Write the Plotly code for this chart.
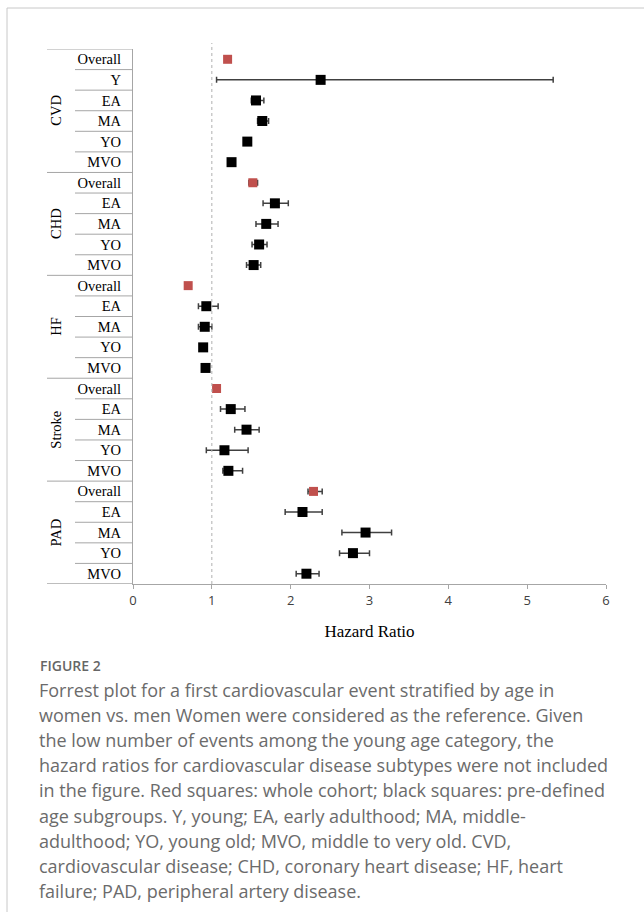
import plotly.graph_objects as go

# Hazard ratios (men vs. women) with 95% CI, by disease subtype and age group
groups = ["CVD", "CHD", "HF", "Stroke", "PAD"]
group_rows = [
    ["Overall", "Y", "EA", "MA", "YO", "MVO"],
    ["Overall", "EA", "MA", "YO", "MVO"],
    ["Overall", "EA", "MA", "YO", "MVO"],
    ["Overall", "EA", "MA", "YO", "MVO"],
    ["Overall", "EA", "MA", "YO", "MVO"],
]
hr = [1.20, 2.38, 1.56, 1.64, 1.45, 1.25,
      1.52, 1.80, 1.69, 1.60, 1.53,
      0.70, 0.93, 0.91, 0.89, 0.92,
      1.06, 1.24, 1.44, 1.16, 1.21,
      2.29, 2.15, 2.95, 2.79, 2.20]
ci_low = [1.17, 1.06, 1.50, 1.58, 1.42, 1.23,
          1.47, 1.65, 1.56, 1.51, 1.44,
          0.68, 0.83, 0.83, 0.87, 0.90,
          1.03, 1.11, 1.29, 0.93, 1.14,
          2.22, 1.93, 2.65, 2.62, 2.07]
ci_high = [1.23, 5.33, 1.66, 1.72, 1.48, 1.27,
           1.58, 1.97, 1.84, 1.70, 1.62,
           0.72, 1.08, 1.00, 0.91, 0.94,
           1.09, 1.42, 1.60, 1.46, 1.39,
           2.40, 2.40, 3.28, 3.00, 2.36]
x_ticks = [0, 1, 2, 3, 4, 5, 6]

caption_title = "FIGURE 2"
caption_lines = [
    "Forrest plot for a first cardiovascular event stratified by age in",
    "women vs. men Women were considered as the reference. Given",
    "the low number of events among the young age category, the",
    "hazard ratios for cardiovascular disease subtypes were not included",
    "in the figure. Red squares: whole cohort; black squares: pre-defined",
    "age subgroups. Y, young; EA, early adulthood; MA, middle-",
    "adulthood; YO, young old; MVO, middle to very old. CVD,",
    "cardiovascular disease; CHD, coronary heart disease; HF, heart",
    "failure; PAD, peripheral artery disease.",
]

# ---- row bookkeeping ----
labels = [lab for rows in group_rows for lab in rows]
n_rows = len(labels)
row_idx = list(range(n_rows))
group_start = []
pos = 0
for rows in group_rows:
    group_start.append(pos)
    pos += len(rows)

overall = [i for i, lab in enumerate(labels) if lab == "Overall"]
subgroup = [i for i in row_idx if i not in overall]

# ---- page geometry (pixels) ----
W, H = 644, 912
L, R, T, B = 133, 38, 49, 328
plot_w = W - L - R
plot_h = H - T - B


def px(xpix):
    return (xpix - L) / plot_w


def py(ypix):
    return (H - B - ypix) / plot_h


SERIF = "Liberation Serif, Times New Roman, serif"
SANS = "Open Sans, Noto Sans, sans-serif"
LINE_GREY = "#a6a6a6"
ERR_COLOR = "#404040"

fig = go.Figure()


def add_points(idx, color, size):
    fig.add_trace(go.Scatter(
        x=[hr[i] for i in idx],
        y=idx,
        mode="markers",
        marker=dict(symbol="square", size=size, color=color,
                    line=dict(width=0)),
        error_x=dict(
            type="data", symmetric=False,
            array=[ci_high[i] - hr[i] for i in idx],
            arrayminus=[hr[i] - ci_low[i] for i in idx],
            color=ERR_COLOR, thickness=1.5, width=3,
        ),
        showlegend=False,
        hoverinfo="x+y",
    ))


add_points(subgroup, "#000000", 10)
add_points(overall, "#C0504D", 9)

shapes = []
# reference line at HR = 1
shapes.append(dict(type="line", xref="x", yref="paper", x0=1, x1=1,
                   y0=0, y1=py(43),
                   line=dict(color="#b0b0b0", width=1, dash="dot")))

# label table row separators
group_bounds = set(g - 0.5 for g in group_start) | {n_rows - 0.5}
for k in range(n_rows + 1):
    b = k - 0.5
    x_left = px(47) if b in group_bounds else px(75)
    shapes.append(dict(type="line", xref="paper", yref="y",
                       x0=x_left, x1=0, y0=b, y1=b,
                       line=dict(color=LINE_GREY, width=1)))

# outer frame (top and left edges)
shapes.append(dict(type="line", xref="paper", yref="paper",
                   x0=px(7), x1=px(W + 2), y0=py(8), y1=py(8),
                   line=dict(color="#c8c8c8", width=1)))
shapes.append(dict(type="line", xref="paper", yref="paper",
                   x0=px(7), x1=px(7), y0=py(8), y1=py(H + 2),
                   line=dict(color="#c8c8c8", width=1)))

annotations = []
# rotated group labels
for g, rows, start in zip(groups, group_rows, group_start):
    annotations.append(dict(
        text=g, textangle=-90, showarrow=False,
        xref="paper", yref="y", x=px(56), y=start + (len(rows) - 1) / 2,
        xanchor="center", yanchor="middle",
        font=dict(family=SERIF, size=14.5, color="#000000"),
    ))

# caption
annotations.append(dict(
    text=caption_title, showarrow=False, xref="paper", yref="paper",
    x=px(38), y=py(665), xanchor="left", yanchor="middle",
    font=dict(family=SANS, size=14, color="#666666", weight=600),
))
for k, line in enumerate(caption_lines):
    annotations.append(dict(
        text=line, showarrow=False, xref="paper", yref="paper",
        x=px(37), y=py(690 + 25.1 * k), xanchor="left", yanchor="middle",
        font=dict(family=SANS, size=18, color="#6b6b6b"),
    ))

fig.update_layout(
    width=W, height=H,
    margin=dict(l=L, r=R, t=T, b=B, autoexpand=False),
    paper_bgcolor="white", plot_bgcolor="white",
    shapes=shapes, annotations=annotations,
    xaxis=dict(
        range=[0, 6], tickvals=x_ticks, ticktext=[str(v) for v in x_ticks],
        showgrid=False, zeroline=False,
        showline=True, linecolor=LINE_GREY, linewidth=1,
        ticks="outside", ticklen=4, tickcolor=LINE_GREY,
        tickfont=dict(family=SANS, size=13, color="#404040"),
        title=dict(text="Hazard Ratio", standoff=17,
                   font=dict(family=SERIF, size=17, color="#000000")),
    ),
    yaxis=dict(
        range=[n_rows - 0.5, -0.5], tickvals=row_idx, ticktext=labels,
        showgrid=False, zeroline=False,
        showline=True, linecolor=LINE_GREY, linewidth=1,
        ticks="", ticklabelstandoff=8,
        tickfont=dict(family=SERIF, size=14.5, color="#000000"),
    ),
)

# extend the bottom rule under the label table
fig.add_shape(type="line", xref="paper", yref="y", x0=px(47), x1=0,
              y0=n_rows - 0.5, y1=n_rows - 0.5,
              line=dict(color=LINE_GREY, width=1))

fig.write_html("out.html")
